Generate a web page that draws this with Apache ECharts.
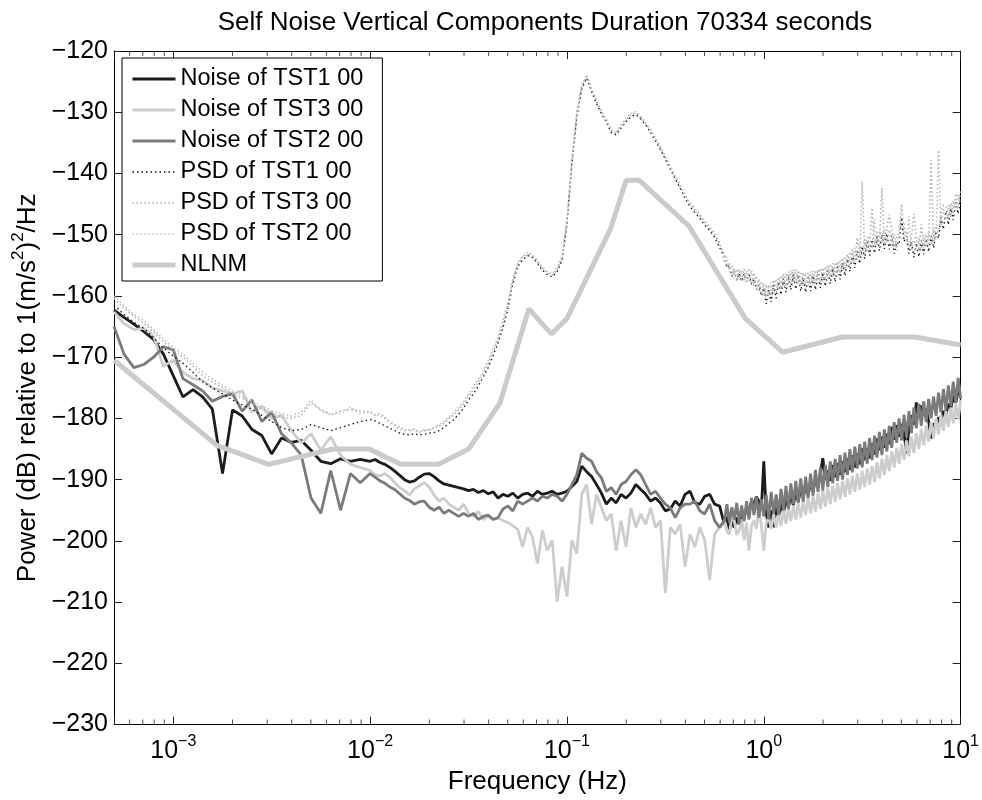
<!DOCTYPE html>
<html><head><meta charset="utf-8">
<script src="https://cdn.jsdelivr.net/npm/echarts@6/dist/echarts.min.js"></script>
<style>html,body{margin:0;padding:0;background:#fff}#chart{width:982px;height:800px}</style>
</head><body><div id="chart"></div>
<script>
// Frequency grid (Hz) shared by the measured curves
const freqHz = [
5.00e-4,5.62e-4,6.31e-4,7.08e-4,7.94e-4,8.91e-4,1.00e-3,1.12e-3,1.26e-3,1.41e-3,1.58e-3,1.78e-3,2.00e-3,2.24e-3,2.51e-3,2.82e-3,3.16e-3,3.55e-3,3.98e-3,4.47e-3,5.01e-3,5.62e-3,6.31e-3,7.08e-3,7.94e-3,8.91e-3,
1.000e-2,1.059e-2,1.122e-2,1.189e-2,1.259e-2,1.334e-2,1.413e-2,1.496e-2,1.585e-2,1.679e-2,1.778e-2,1.884e-2,1.995e-2,2.113e-2,2.239e-2,2.371e-2,2.512e-2,2.661e-2,2.818e-2,2.985e-2,3.162e-2,3.350e-2,3.548e-2,3.758e-2,3.981e-2,4.217e-2,4.467e-2,4.732e-2,5.012e-2,5.309e-2,5.623e-2,5.957e-2,6.310e-2,6.683e-2,7.079e-2,7.499e-2,7.943e-2,8.414e-2,8.913e-2,9.441e-2,
1.000e-1,1.059e-1,1.122e-1,1.189e-1,1.259e-1,1.334e-1,1.413e-1,1.496e-1,1.585e-1,1.679e-1,1.778e-1,1.884e-1,1.995e-1,2.113e-1,2.239e-1,2.371e-1,2.512e-1,2.661e-1,2.818e-1,2.985e-1,3.162e-1,3.350e-1,3.548e-1,3.758e-1,3.981e-1,4.217e-1,4.467e-1,4.732e-1,5.012e-1,5.309e-1,5.623e-1,5.957e-1,
6.310e-1,6.494e-1,6.683e-1,6.879e-1,7.079e-1,7.286e-1,7.499e-1,7.718e-1,7.943e-1,8.175e-1,8.414e-1,8.660e-1,8.913e-1,9.173e-1,9.441e-1,9.716e-1,
1.000,1.029,1.059,1.090,1.122,1.155,1.189,1.223,1.259,1.296,
1.334,1.372,1.413,1.454,1.496,1.540,1.585,1.631,1.679,1.728,
1.778,1.830,1.884,1.939,1.995,2.054,2.113,2.175,2.239,2.304,
2.371,2.441,2.512,2.585,2.661,2.738,2.818,2.901,2.985,3.073,
3.162,3.255,3.350,3.447,3.548,3.652,3.758,3.868,3.981,4.097,
4.217,4.340,4.467,4.597,4.732,4.870,5.012,5.158,5.309,5.464,
5.623,5.788,5.957,6.131,6.310,6.494,6.683,6.879,7.079,7.286,
7.499,7.718,7.943,8.175,8.414,8.660,8.913,9.173,9.441,9.716,
10.0];

const noiseTST1 = [
-162.3,-163.5,-164.6,-165.8,-167.1,-169.5,-173.0,-176.5,-175.3,-176.5,-178.5,-189.0,-178.6,-179.6,-181.8,-182.8,-185.8,-183.2,-183.9,-183.6,-185.2,-187.0,-187.4,-186.6,-187.0,-186.7,
-187.0,-186.7,-187.2,-187.5,-188.0,-188.6,-189.3,-190.0,-190.4,-190.2,-189.6,-189.1,-189.0,-189.5,-190.2,-190.7,-190.9,-191.1,-191.3,-191.5,-191.8,-191.6,-192.1,-191.8,-192.3,-192.0,
-193.0,-192.4,-192.7,-192.2,-193.0,-192.4,-192.2,-192.7,-191.9,-192.4,-192.2,-191.9,-192.4,-192.2,-191.9,
-191.1,-190.3,-187.8,-188.7,-189.5,-190.8,-192.2,-194.0,-193.0,-193.8,-192.4,-193.0,-192.2,-190.8,-191.6,-192.4,-193.5,-193.0,-193.8,-195.1,
-194.8,-193.5,-194.3,-192.4,-191.9,-193.8,-194.0,-192.7,-192.4,-194.0,-194.3,
-197.3,-196.0,-198.1,-196.8,-197.8,-196.2,-197.3,-195.5,-196.2,-194.5,
-195.1,-193.6,-194.0,-192.8,-193.5,-194.8,-187.0,-195.5,-197.8,-195.0,
-197.8,-194.5,-196.0,-193.8,-195.5,-193.0,-194.6,-192.4,-194.2,-191.9,
-193.6,-191.3,-193.0,-190.8,-192.5,-190.5,-192.0,-189.8,-191.2,-188.9,
-186.5,-190.0,-188.5,-190.2,-187.6,-189.6,-187.3,-189.2,-187.0,-188.8,
-186.6,-188.4,-186.0,-188.0,-185.7,-187.5,-184.9,-186.8,-184.9,-186.5,
-184.1,-185.9,-183.3,-185.2,-183.0,-184.8,-182.5,-184.2,-181.4,-183.5,
-181.1,-183.0,-180.9,-182.5,-185.7,-181.5,-179.5,-181.0,-177.4,-179.8,
-177.9,-179.5,-178.4,-180.5,-183.3,-180.8,-181.7,-179.8,-180.6,-178.8,
-179.5,-177.6,-178.4,-176.4,-177.4,-175.6,-176.0];

const noiseTST3 = [
-162.6,-164.5,-165.5,-165.3,-166.5,-171.5,-170.5,-172.5,-173.5,-173.8,-175.0,-175.5,-176.0,-175.5,-179.0,-178.0,-180.0,-179.5,-182.0,-184.0,-182.5,-185.2,-183.0,-186.0,-187.5,-188.0,
-188.5,-189.2,-189.4,-189.0,-189.6,-190.5,-191.3,-191.8,-192.5,-191.5,-191.0,-190.5,-191.2,-192.5,-193.5,-193.0,-194.0,-194.5,-195.0,-194.0,-195.5,-196.0,-195.2,-196.5,-196.0,-196.5,
-196.2,-196.7,-197.0,-197.5,-198.1,-201.0,-197.8,-199.4,-203.7,-198.3,-201.6,-199.9,-209.9,-204.2,-209.1,
-199.9,-202.1,-192.4,-190.8,-197.3,-192.4,-194.6,-196.7,-195.6,-201.6,-196.7,-201.0,-194.6,-197.8,-195.6,-197.3,-194.6,-197.8,-196.7,-208.5,
-197.8,-198.9,-197.3,-204.2,-198.9,-201.0,-197.8,-199.9,-206.4,-198.9,-197.8,
-196.7,-198.5,-198.9,-196.0,-196.7,-199.0,-198.3,-196.5,-199.9,-197.0,
-201.6,-197.5,-196.7,-198.0,-194.6,-197.5,-201.6,-197.0,-196.2,-198.0,
-195.6,-197.8,-195.5,-197.6,-195.0,-197.2,-194.6,-196.8,-194.2,-196.5,
-193.8,-196.2,-193.4,-195.8,-193.0,-195.5,-192.6,-195.2,-192.2,-194.8,
-191.8,-194.4,-191.4,-194.0,-191.0,-193.6,-190.6,-193.2,-190.2,-192.8,
-189.8,-192.4,-189.4,-192.0,-189.0,-191.6,-188.6,-191.2,-188.2,-190.8,
-187.8,-190.4,-187.2,-189.8,-186.6,-189.2,-186.0,-188.6,-185.4,-188.0,
-184.8,-187.4,-184.2,-186.8,-183.6,-186.2,-183.0,-185.6,-182.4,-185.0,
-181.8,-184.4,-181.2,-183.8,-180.6,-183.2,-180.0,-182.6,-179.4,-182.0,
-178.8,-181.4,-178.2,-180.8,-177.6,-180.2,-177.0];

const noiseTST2 = [
-165.0,-169.5,-171.7,-171.2,-170.0,-168.3,-168.8,-173.5,-174.5,-175.5,-177.2,-176.4,-176.0,-178.8,-177.0,-180.5,-179.0,-182.5,-184.0,-186.0,-193.0,-195.5,-188.5,-195.0,-189.0,-190.5,
-189.0,-189.6,-190.2,-190.6,-191.2,-191.6,-192.3,-193.0,-193.4,-194.0,-193.6,-193.5,-194.5,-195.0,-194.5,-195.5,-195.0,-195.5,-196.0,-195.5,-196.0,-195.5,-196.5,-196.0,-195.8,-196.5,
-196.2,-194.8,-194.3,-195.1,-193.5,-194.0,-193.5,-193.0,-193.5,-192.7,-193.0,-192.4,-192.7,-193.5,-192.4,
-190.8,-189.2,-185.7,-186.5,-187.0,-188.7,-189.7,-191.9,-191.3,-192.4,-190.8,-190.3,-189.2,-188.4,-189.2,-190.8,-192.4,-191.9,-193.0,-194.0,
-194.6,-196.2,-194.6,-194.0,-194.0,-193.5,-195.1,-195.6,-194.0,-196.7,-197.8,
-196.7,-194.0,-197.0,-194.5,-196.5,-193.8,-197.2,-194.2,-196.8,-193.5,
-196.5,-193.0,-195.8,-192.8,-196.2,-193.2,-196.0,-192.5,-196.5,-192.0,
-195.5,-192.4,-195.8,-191.5,-195.0,-191.0,-194.8,-190.6,-194.0,-190.2,
-193.8,-189.8,-193.6,-189.5,-193.0,-189.0,-192.6,-188.4,-192.0,-188.0,
-191.8,-187.6,-191.2,-187.0,-190.6,-186.6,-190.2,-186.0,-190.0,-185.6,
-189.2,-185.0,-188.8,-184.6,-188.2,-184.2,-188.0,-183.8,-187.4,-183.2,
-186.8,-182.8,-186.4,-182.2,-186.0,-181.8,-185.4,-181.2,-184.8,-180.6,
-184.0,-180.0,-183.6,-179.4,-183.0,-178.8,-182.4,-178.2,-181.6,-177.6,
-181.2,-177.2,-180.6,-176.8,-180.0,-176.4,-179.6,-175.8,-179.0,-175.2,
-178.6,-174.6,-178.0,-174.0,-177.4,-173.4,-176.8];

const psdTST1 = [
-161.5,-163.0,-164.3,-165.3,-166.8,-168.5,-169.8,-171.0,-172.5,-174.0,-175.0,-176.0,-177.0,-177.8,-178.5,-179.5,-180.5,-181.5,-182.0,-181.8,-181.0,-181.5,-182.0,-181.5,-181.0,-180.5,
-180.2,-180.4,-180.8,-181.2,-181.6,-182.0,-182.4,-182.6,-182.7,-182.5,-182.7,-182.6,-182.4,-182.3,-182.0,-181.5,-180.8,-180.2,-179.3,-178.3,-177.0,-176.0,-174.7,-173.2,-171.7,-169.7,
-167.7,-165.2,-162.2,-158.0,-155.2,-154.1,-153.4,-153.7,-154.6,-155.8,-156.5,-156.9,-156.0,-154.2,-148.3,
-138.5,-130.8,-126.2,-124.4,-126.6,-128.6,-130.2,-131.6,-133.3,-133.7,-132.6,-131.6,-130.7,-130.4,-131.1,-132.1,-133.3,-134.7,-136.1,-137.7,
-139.3,-140.9,-142.4,-144.1,-145.4,-146.4,-147.3,-148.4,-149.3,-150.4,-152.1,
-153.5,-155.4,-155.0,-156.8,-156.0,-157.4,-156.3,-157.6,-156.4,-157.7,
-156.5,-158.1,-157.2,-159.0,-158.2,-160.0,-158.7,-161.3,-159.0,-161.0,
-158.2,-160.4,-157.7,-159.8,-157.2,-159.4,-156.8,-159.0,-156.5,-158.9,
-156.6,-159.2,-157.0,-159.4,-157.0,-159.2,-156.7,-159.0,-156.5,-158.7,
-156.2,-158.4,-155.8,-158.0,-155.5,-157.7,-155.2,-157.3,-154.6,-156.7,
-154.0,-156.0,-153.2,-155.4,-152.7,-154.7,-151.9,-153.9,-151.2,-153.4,
-150.8,-153.0,-150.4,-152.6,-150.0,-152.3,-149.8,-152.4,-150.2,-153.1,
-151.2,-151.6,-147.2,-151.1,-150.2,-153.1,-151.2,-153.7,-151.4,-153.6,
-151.0,-153.2,-150.7,-152.8,-150.2,-152.2,-149.4,-150.6,-147.2,-149.1,
-146.2,-148.4,-145.7,-147.6,-144.7,-146.6,-143.7];

const psdTST3 = [
-160.4,-162.0,-163.3,-164.5,-165.8,-167.5,-168.8,-170.0,-171.5,-173.0,-174.1,-175.0,-176.0,-176.8,-177.5,-178.5,-179.0,-179.8,-180.0,-179.5,-177.5,-178.5,-179.5,-178.8,-178.5,-178.8,
-179.0,-179.4,-179.2,-179.8,-180.5,-181.0,-181.4,-181.8,-182.0,-181.7,-182.2,-182.0,-181.8,-181.6,-181.2,-180.8,-180.0,-179.4,-178.6,-177.6,-176.4,-175.3,-174.0,-172.6,-171.0,-169.0,
-167.2,-164.5,-161.5,-157.5,-154.8,-153.7,-153.1,-153.5,-154.4,-155.5,-156.2,-156.6,-155.7,-153.8,-147.8,
-138.0,-130.3,-125.8,-124.1,-126.3,-128.3,-130.0,-131.3,-133.0,-133.4,-132.3,-131.3,-130.4,-130.1,-130.8,-131.9,-133.0,-134.4,-135.8,-137.4,
-139.0,-140.6,-142.1,-143.8,-145.0,-146.0,-147.0,-148.0,-149.0,-150.0,-151.5,
-153.2,-155.3,-154.7,-156.8,-155.5,-157.5,-155.6,-157.7,-155.6,-157.7,
-155.5,-158.1,-156.2,-159.0,-157.2,-159.8,-157.9,-160.3,-158.2,-160.0,
-157.4,-159.4,-156.9,-158.8,-156.4,-158.4,-156.0,-158.0,-155.7,-157.9,
-155.8,-158.2,-156.2,-158.4,-156.2,-158.2,-155.9,-158.0,-155.7,-157.7,
-155.4,-157.4,-155.0,-157.0,-154.7,-156.7,-154.4,-156.3,-153.8,-155.7,
-153.2,-155.0,-152.4,-154.4,-150.5,-153.7,-141.3,-152.9,-150.4,-152.4,
-145.6,-152.0,-149.6,-151.6,-142.4,-151.3,-149.0,-146.7,-149.4,-152.1,
-150.4,-150.6,-145.0,-150.1,-149.4,-152.1,-150.4,-146.6,-150.6,-152.6,
-148.3,-152.2,-149.9,-151.8,-137.8,-151.2,-148.6,-149.6,-146.4,-145.2,
-145.4,-147.4,-144.9,-146.6,-143.3,-145.6,-142.9];

const psdTST2 = [
-160.0,-161.6,-163.0,-164.0,-165.5,-167.0,-168.5,-169.5,-171.0,-172.4,-173.6,-174.6,-175.5,-176.4,-177.2,-178.0,-178.7,-179.2,-179.6,-179.0,-177.0,-178.8,-179.2,-179.2,-178.2,-179.2,
-178.8,-179.6,-179.5,-180.0,-180.8,-181.2,-181.8,-182.0,-181.8,-182.0,-182.4,-181.8,-182.0,-181.4,-181.0,-180.5,-179.8,-179.0,-178.2,-177.2,-176.0,-174.8,-173.6,-172.2,-170.5,-168.6,
-166.8,-164.0,-161.0,-157.2,-154.6,-153.5,-152.9,-153.3,-154.2,-155.3,-156.0,-156.4,-155.4,-153.5,-147.5,
-137.6,-130.0,-125.5,-123.9,-126.0,-128.0,-129.8,-131.1,-132.8,-133.2,-132.0,-131.0,-130.2,-129.9,-130.6,-131.7,-132.8,-134.2,-135.6,-137.2,
-138.8,-140.4,-141.8,-143.5,-144.8,-145.7,-146.7,-147.7,-148.7,-149.7,-151.2,
-154.6,-153.6,-156.1,-155.0,-157.1,-155.6,-157.4,-155.8,-157.6,-155.9,
-157.6,-155.8,-158.4,-156.7,-159.4,-157.6,-160.1,-158.1,-160.4,-157.8,
-159.6,-157.2,-159.1,-156.6,-158.6,-156.2,-158.2,-155.8,-157.9,-155.7,
-158.0,-156.0,-158.4,-156.2,-158.4,-156.0,-158.1,-155.8,-157.9,-155.5,
-157.6,-155.2,-157.2,-154.8,-156.9,-154.5,-156.6,-154.1,-156.0,-153.5,
-155.4,-152.8,-154.6,-152.2,-154.1,-151.5,-153.3,-150.7,-152.6,-150.2,
-152.2,-147.5,-151.8,-149.4,-151.4,-149.1,-151.2,-149.2,-151.6,-149.9,
-152.6,-148.4,-148.6,-147.9,-151.6,-147.0,-152.6,-150.5,-152.8,-150.4,
-152.4,-150.0,-152.1,-149.6,-151.6,-149.0,-150.8,-136.2,-148.6,-145.9,
-147.6,-145.2,-147.1,-144.4,-146.1,-143.4,-145.1];

// Peterson New Low Noise Model breakpoints
const nlnmFreq = [5.0e-4,1.667e-3,3.049e-3,6.494e-3,9.901e-3,1.429e-2,2.222e-2,3.165e-2,4.566e-2,6.410e-2,8.333e-2,0.1,0.1667,0.2,0.2326,0.4167,0.8065,1.25,2.5,5.882,10];
const nlnmDb   = [-170.5,-184.4,-187.5,-185.0,-185.0,-187.5,-187.5,-185.0,-177.5,-162.1,-166.2,-163.7,-149.0,-141.1,-141.1,-148.6,-163.7,-169.2,-166.7,-166.7,-168.0];

// minor tick positions of the log frequency axis
const xMinorTicks = [6e-4,7e-4,8e-4,9e-4,2e-3,3e-3,4e-3,5e-3,6e-3,7e-3,8e-3,9e-3,2e-2,3e-2,4e-2,5e-2,6e-2,7e-2,8e-2,9e-2,0.2,0.3,0.4,0.5,0.6,0.7,0.8,0.9,2,3,4,5,6,7,8,9];

const seriesNames = ['Noise of TST1 00','Noise of TST3 00','Noise of TST2 00','PSD of TST1 00','PSD of TST3 00','PSD of TST2 00','NLNM'];

const FONT = '"Liberation Sans", Arial, Helvetica, sans-serif';
function pairs(f, v) { return f.map((x, i) => [x, v[i]]); }
const MINUS = '\u2212';
function xLabelFmt(v) {
  const e = Math.log10(v), r = Math.round(e);
  if (Math.abs(e - r) > 1e-6) return '';
  return '{b|10}{s|' + (r < 0 ? MINUS + (-r) : String(r)) + '}';
}
function yLabelFmt(v) { return v < 0 ? MINUS + (-v) : String(v); }

const styles = [
  { color: '#1c1c1c', width: 2.8, type: 'solid' },
  { color: '#cdcdcd', width: 2.8, type: 'solid' },
  { color: '#7b7b7b', width: 2.8, type: 'solid' },
  { color: '#111111', width: 1.3, type: [1.5, 3] },
  { color: '#b0b0b0', width: 1.6, type: [1.5, 2.5] },
  { color: '#bdbdbd', width: 1.6, type: [1.5, 2.5] },
  { color: '#cbcbcb', width: 5, type: 'solid' }
];
const seriesData = [
  pairs(freqHz, noiseTST1), pairs(freqHz, noiseTST3), pairs(freqHz, noiseTST2),
  pairs(freqHz, psdTST1), pairs(freqHz, psdTST3), pairs(freqHz, psdTST2),
  pairs(nlnmFreq, nlnmDb)
];

const lineSeriesList = seriesNames.map((name, i) => ({
  name: name, type: 'line', data: seriesData[i], showSymbol: false, symbol: 'none',
  lineStyle: { color: styles[i].color, width: styles[i].width, type: styles[i].type },
  itemStyle: { color: styles[i].color },
  clip: true, silent: true
}));

const chart = echarts.init(document.getElementById('chart'), null, { renderer: 'canvas' });
const option = {
  animation: false,
  backgroundColor: '#fff',
  title: {
    text: 'Self Noise Vertical Components Duration 70334 seconds',
    left: 540, top: 5, textAlign: 'center',
    textStyle: { fontFamily: FONT, fontSize: 26, fontWeight: 'normal', color: '#000' }
  },
  grid: { left: 114, right: 17, top: 51, bottom: 67 },
  legend: {
    data: seriesNames.map((n, i) => ({ name: n, lineStyle: { width: styles[i].width, color: styles[i].color, type: styles[i].type } })),
    orient: 'vertical', left: 122, top: 58,
    padding: [9, 19, 4, 8], itemWidth: 43, itemHeight: 14, itemGap: 7,
    selectedMode: false,
    itemStyle: { opacity: 0 },
    backgroundColor: '#fff', borderColor: '#000', borderWidth: 1,
    textStyle: { fontFamily: FONT, fontSize: 23.5, lineHeight: 24, color: '#000' }
  },
  xAxis: [{
    type: 'log', logBase: 10, min: 5e-4, max: 10, position: 'bottom', splitNumber: 4,
    axisLine: { show: true, onZero: false, lineStyle: { color: '#000', width: 1 } },
    axisTick: { show: true, inside: true, length: 8, lineStyle: { color: '#222' } },
    axisLabel: {
      formatter: xLabelFmt, margin: 9, color: '#000', fontFamily: FONT,
      rich: {
        b: { fontSize: 25, fontFamily: FONT, color: '#000' },
        s: { fontSize: 16, fontFamily: FONT, color: '#000', padding: [0, 0, 20, 0] }
      }
    },
    splitLine: { show: false },
    name: 'Frequency (Hz)', nameLocation: 'middle', nameGap: 40,
    nameTextStyle: { fontSize: 26, fontFamily: FONT, color: '#000' }
  }, {
    type: 'log', logBase: 10, min: 5e-4, max: 10, position: 'top', splitNumber: 4,
    axisLine: { show: true, onZero: false, lineStyle: { color: '#000', width: 1 } },
    axisTick: { show: true, inside: true, length: 8, lineStyle: { color: '#222' } },
    axisLabel: { show: false }, splitLine: { show: false }
  }],
  yAxis: [{
    type: 'value', min: -230, max: -120, interval: 10, position: 'left',
    axisLine: { show: true, onZero: false, lineStyle: { color: '#000', width: 1 } },
    axisTick: { show: true, inside: true, length: 8, lineStyle: { color: '#222' } },
    axisLabel: { formatter: yLabelFmt, fontSize: 25, fontFamily: FONT, color: '#000', margin: 6 },
    splitLine: { show: false },
    name: '{a|Power (dB) relative to 1(m/s}{s|2}{a|)}{s|2}{a|/Hz}',
    nameLocation: 'middle', nameRotate: 90, nameGap: 66,
    nameTextStyle: {
      fontSize: 26, fontFamily: FONT, color: '#000',
      rich: {
        a: { fontSize: 26, fontFamily: FONT, color: '#000' },
        s: { fontSize: 17, fontFamily: FONT, color: '#000', padding: [0, 0, 18, 0] }
      }
    }
  }, {
    type: 'value', min: -230, max: -120, interval: 10, position: 'right',
    axisLine: { show: true, onZero: false, lineStyle: { color: '#000', width: 1 } },
    axisTick: { show: true, inside: true, length: 8, lineStyle: { color: '#222' } },
    axisLabel: { show: false }, splitLine: { show: false }
  }],
  series: lineSeriesList.concat([
    {
      type: 'scatter', xAxisIndex: 0, yAxisIndex: 0, silent: true, clip: false,
      data: xMinorTicks.map(f => [f, -230]), symbol: 'rect', symbolSize: [1, 5], symbolOffset: [0, -2.5],
      itemStyle: { color: '#222' }, z: 5
    },
    {
      type: 'scatter', xAxisIndex: 0, yAxisIndex: 0, silent: true, clip: false,
      data: xMinorTicks.map(f => [f, -120]), symbol: 'rect', symbolSize: [1, 5], symbolOffset: [0, 2.5],
      itemStyle: { color: '#222' }, z: 5
    }
  ])
};
chart.setOption(option);
</script>
</body></html>
